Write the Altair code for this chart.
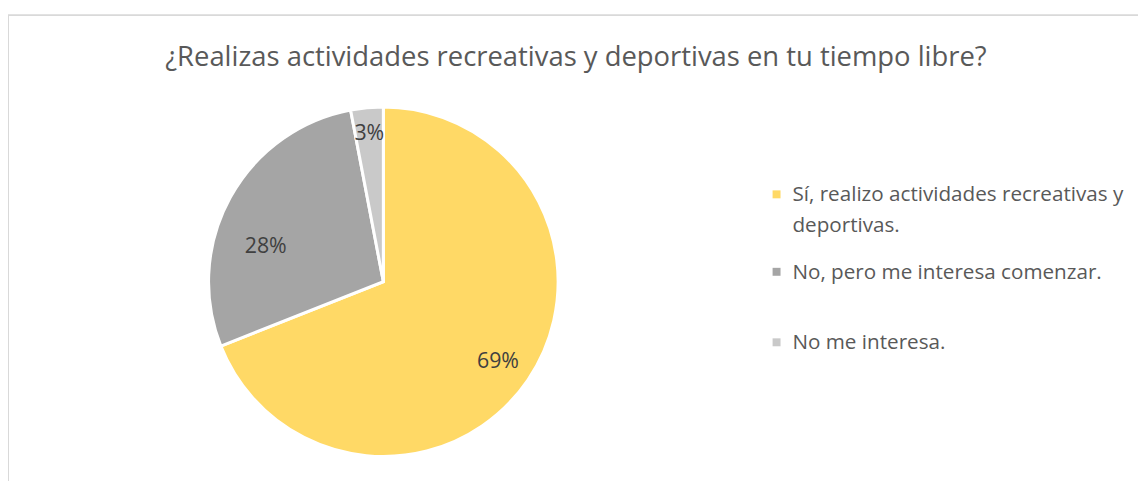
import altair as alt
import pandas as pd

TITLE = "¿Realizas actividades recreativas y deportivas en tu tiempo libre?"
categories = [
    "Sí, realizo actividades recreativas y deportivas.",
    "No, pero me interesa comenzar.",
    "No me interesa.",
]
legend_labels = [
    "Sí, realizo actividades recreativas y\ndeportivas.",
    "No, pero me interesa comenzar.",
    "No me interesa.",
]
values = [69, 28, 3]
pct_labels = ["69%", "28%", "3%"]
colors = ["#FFD966", "#A5A5A5", "#C9C9C9"]

df = pd.DataFrame({
    "category": categories,
    "legend": legend_labels,
    "value": values,
    "label": pct_labels,
    "idx": list(range(len(categories))),
})

FONT = "Open Sans"
CX, CY, R = 378, 274, 176

color = alt.Color("category:N", scale=alt.Scale(domain=categories, range=colors), legend=None)

base = alt.Chart(df)

border = alt.Chart(pd.DataFrame({"a": [1]})).mark_rect(
    fill=None, stroke="#D9D9D9", strokeWidth=2
).encode(x=alt.value(0), x2=alt.value(1200), y=alt.value(5.5), y2=alt.value(520))

pie = base.mark_arc(outerRadius=R, stroke="white", strokeWidth=3).encode(
    theta=alt.Theta("value:Q", stack=True),
    color=color,
    order=alt.Order("idx:Q"),
    x=alt.value(CX),
    y=alt.value(CY),
)

# data labels: placed around each slice's mid angle (computed from the data)
labels = base.transform_joinaggregate(
    total="sum(value)"
).transform_window(
    cum="sum(value)", sort=[alt.SortField("idx")], frame=[None, 0]
).transform_calculate(
    lr="datum.idx == 0 ? 138 : (datum.idx == 1 ? 126 : 152)",
    ao="datum.idx == 1 ? -11.7 : (datum.idx == 2 ? -0.7 : 0.5)",
).transform_calculate(
    mid="(datum.cum - datum.value / 2) / datum.total * 2 * PI + datum.ao * PI / 180"
).transform_calculate(
    lx=f"{CX} + datum.lr * sin(datum.mid)",
    ly=f"{CY} - datum.lr * cos(datum.mid)",
).mark_text(font=FONT, fontSize=21.5, color="#404040", baseline="middle", align="center",
            dx=2, dy=2).encode(
    x=alt.X("lx:Q", scale=None),
    y=alt.Y("ly:Q", scale=None),
    text="label:N",
)

title = alt.Chart(pd.DataFrame({"t": [TITLE]})).mark_text(
    font=FONT, fontSize=27.6, color="#595959", baseline="alphabetic", align="center"
).encode(text="t:N", x=alt.value(572), y=alt.value(57))

legend_base = base.transform_calculate(
    ly="datum.idx == 0 ? 186 : (datum.idx == 1 ? 264 : 335)"
)

leg_sq = legend_base.mark_square(size=64, opacity=1).encode(
    x=alt.value(774), y=alt.Y("ly:Q", scale=None), color=color
)
leg_txt = legend_base.mark_text(
    font=FONT, fontSize=20.8, color="#595959", align="left", baseline="top",
    lineBreak="\n", lineHeight=31, dy=-9,
).encode(x=alt.value(790), y=alt.Y("ly:Q", scale=None), text="legend:N")

chart = alt.layer(border, pie, labels, title, leg_sq, leg_txt).properties(
    width=1138, height=473, autosize=alt.AutoSizeParams(type="none"), padding=0
).configure_view(stroke=None)

chart.save("out.html", embed_options={"renderer": "svg", "actions": False})
